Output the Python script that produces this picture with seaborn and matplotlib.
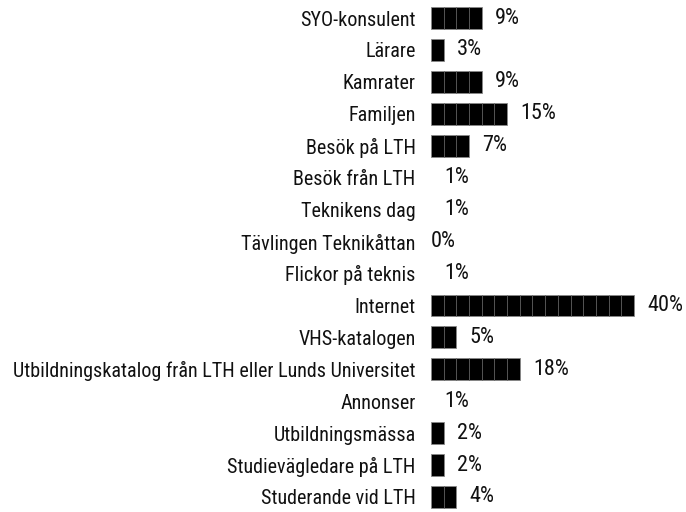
import matplotlib
matplotlib.use("Agg")
import matplotlib.pyplot as plt
import seaborn as sns
import pandas as pd
import numpy as np

categories = ["SYO-konsulent", "Lärare", "Kamrater", "Familjen", "Besök på LTH",
              "Besök från LTH", "Teknikens dag", "Tävlingen Teknikåttan",
              "Flickor på teknis", "Internet", "VHS-katalogen",
              "Utbildningskatalog från LTH eller Lunds Universitet", "Annonser",
              "Utbildningsmässa", "Studievägledare på LTH", "Studerande vid LTH"]
percent = [9, 3, 9, 15, 7, 1, 1, 0, 1, 40, 5, 18, 1, 2, 2, 4]
unit = 2.5  # each block represents 2.5 %

blocks = [int(np.floor(p / unit + 0.5)) for p in percent]
df = pd.DataFrame({"cat": categories, "pct": percent,
                   "bar": [b * unit for b in blocks]})

sns.set_theme(style="white")
plt.rcParams["font.family"] = ["Roboto Condensed", "Archivo Narrow", "DejaVu Sans"]

fig = plt.figure(figsize=(6.86, 5.12), dpi=100)
ax = fig.add_axes([0.628, 0.0, 0.372, 1.0])

sns.barplot(data=df, x="bar", y="cat", orient="h", color="black",
            width=0.68, ax=ax, edgecolor="#888888", linewidth=0.6,
            saturation=1)
for p in ax.patches:
    if p.get_width() <= 0:
        p.set_visible(False)

# block separators
for i, b in enumerate(blocks):
    for k in range(1, b):
        ax.plot([k * unit, k * unit], [i - 0.34, i + 0.34], color="#555555",
                lw=0.7, solid_capstyle="butt")

for i, (p, b) in enumerate(zip(percent, blocks)):
    ax.annotate(f"{p}%", xy=(b * unit, i), xytext=(9.5 if p > 0 else 0, 0),
                textcoords="offset points", va="center", ha="left",
                fontsize=16, color="#111111")

ax.set_xlim(0, 50.2)
ax.set_ylim(15 + 15 / 31.93, -18 / 31.93)
ax.set_xlabel("")
ax.set_ylabel("")
ax.set_xticks([])
ax.tick_params(axis="y", length=0, pad=11.0, labelsize=14.5, labelcolor="#111111")
for s in ax.spines.values():
    s.set_visible(False)

fig.savefig("out.png", dpi=100)
